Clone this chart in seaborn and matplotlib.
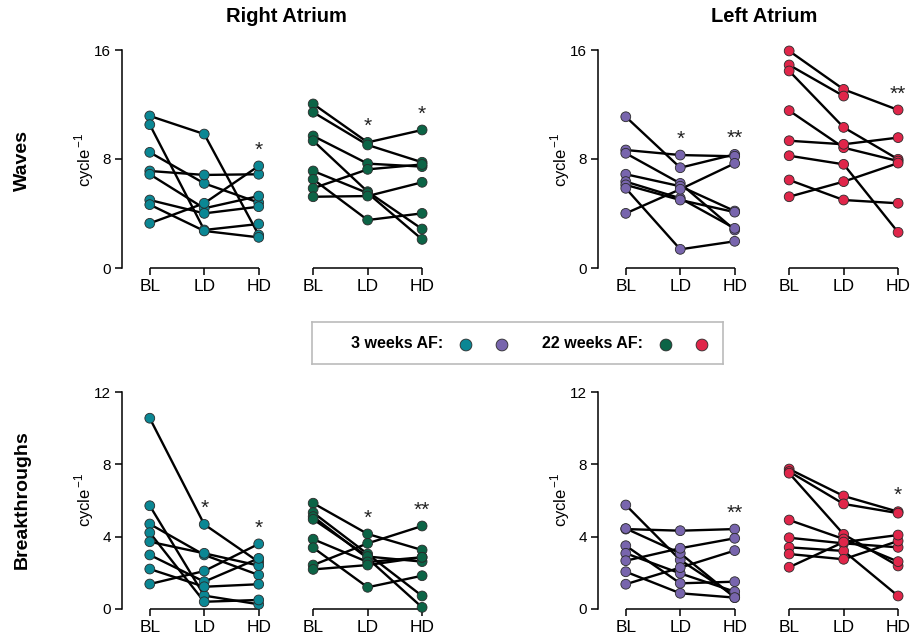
import numpy as np
import pandas as pd
import matplotlib
matplotlib.use("Agg")
import matplotlib.pyplot as plt
import seaborn as sns

# ---------------- data ----------------
CATEGORIES = ["BL", "LD", "HD"]
GROUP_LABELS = ["3 weeks AF:", "22 weeks AF:"]
ATRIA = ["Right Atrium", "Left Atrium"]
MEASURES = ["Waves", "Breakthroughs"]

# each list: [BL values], [LD values], [HD values]; index = animal
ra_waves_3w = [[11.16, 10.52, 8.49, 7.12, 6.88, 4.99, 4.65, 3.28],
               [9.83, 2.79, 6.21, 6.83, 4.38, 4.01, 2.72, 4.75],
               [2.42, 3.23, 4.80, 6.88, 5.28, 4.50, 2.25, 7.49]]
ra_waves_22w = [[12.04, 11.43, 9.69, 9.34, 7.12, 6.51, 5.85, 5.23],
                [9.22, 9.03, 7.66, 5.60, 5.50, 3.52, 7.24, 5.28],
                [10.13, 7.76, 7.44, 2.86, 2.10, 4.01, 7.60, 6.29]]
la_waves_3w = [[11.10, 8.66, 8.42, 6.88, 6.34, 6.10, 5.85, 4.01],
               [7.36, 8.29, 6.21, 6.00, 5.12, 4.99, 1.37, 5.78],
               [8.34, 8.20, 2.79, 4.18, 2.91, 4.10, 1.96, 7.68]]
la_waves_22w = [[15.93, 14.90, 14.46, 11.55, 9.34, 8.24, 6.46, 5.23],
                [13.11, 12.62, 10.32, 8.83, 9.08, 7.61, 4.99, 6.34],
                [11.60, np.nan, 7.98, 7.85, 9.57, 2.62, 4.75, 7.70]]
ra_bt_3w = [[10.55, 5.71, 4.70, 4.22, 3.72, 2.99, 2.21, 1.38],
            [4.68, 0.74, 2.99, 0.40, 3.08, 1.51, 1.23, 2.10],
            [2.60, 0.26, 1.88, 0.50, 2.40, 2.80, 1.37, 3.60]]
ra_bt_22w = [[5.85, 5.33, 5.11, 4.96, 3.86, 3.39, 2.43, 2.19],
             [4.15, 3.04, 2.80, 2.90, 2.60, 1.20, 3.63, 2.43],
             [3.26, 0.72, 0.09, 2.62, 2.86, 1.84, 4.59, 2.86]]
la_bt_3w = [[5.75, 4.42, 4.45, 3.50, 3.08, 2.67, 2.06, 1.37],
            [2.71, 4.33, 3.08, 1.42, 1.97, 3.36, 0.87, 2.29],
            [0.72, 4.42, 0.63, 1.51, 0.96, 3.91, 0.63, 3.23]]
la_bt_22w = [[7.74, 7.60, 7.51, 4.92, 3.94, 3.41, 3.04, 2.31],
             [6.25, 5.81, 4.13, 3.87, 3.63, 3.21, 2.75, 3.70],
             [5.38, 5.30, 2.38, 2.62, 3.41, 0.72, 3.76, 4.09]]

# significance marks per category (BL, LD, HD)
ra_waves_sig = [["", "", "*"], ["", "*", "*"]]
la_waves_sig = [["", "*", "**"], ["", "", "**"]]
ra_bt_sig = [["", "*", "*"], ["", "*", "**"]]
la_bt_sig = [["", "", "**"], ["", "", "*"]]

RA_COLORS = ["#0B8794", "#0C6446"]
LA_COLORS = ["#7865AD", "#E0264A"]

WAVES_TICKS = [0, 8, 16]
BT_TICKS = [0, 4, 8, 12]

# ---------------- style ----------------
sns.set_theme(style="ticks")
plt.rcParams["font.family"] = ["Liberation Sans", "DejaVu Sans"]
plt.rcParams["axes.linewidth"] = 1.1
for key in ["text.color", "axes.labelcolor", "xtick.color", "ytick.color",
            "axes.edgecolor"]:
    plt.rcParams[key] = "black"

W, H = 911, 639
fig = plt.figure(figsize=(W / 100, H / 100), dpi=100)


def px_axes(x0, y0, x1, y1):
    return fig.add_axes([x0 / W, 1 - y1 / H, (x1 - x0) / W, (y1 - y0) / H])


def panel(ax, groups, sigs, colors, ticks):
    rows = []
    for g, data in enumerate(groups):
        for c, vals in enumerate(data):
            for s, v in enumerate(vals):
                rows.append(dict(subject=f"{g}-{s}", x=c + 3 * g, value=v, group=g))
    df = pd.DataFrame(rows)
    sns.lineplot(data=df, x="x", y="value", units="subject", estimator=None,
                 color="black", linewidth=1.7, ax=ax, legend=False)
    sns.scatterplot(data=df, x="x", y="value", hue="group", palette=colors,
                    s=50, edgecolor="#2a2a2a", linewidth=0.6, ax=ax,
                    legend=False, zorder=3, clip_on=False)
    # significance
    for g, data in enumerate(groups):
        for c, mark in enumerate(sigs[g]):
            if mark:
                top = np.nanmax(data[c])
                ax.annotate(mark, (c + 3 * g, top), xytext=(0, 11.5),
                            textcoords="offset points", ha="center",
                            va="center", fontsize=15, color="#222222")
    ax.set_xlim(-0.51, 5.2)
    ax.set_ylim(ticks[0], ticks[-1])
    ax.set_yticks(ticks)
    ax.set_yticklabels([str(t) for t in ticks], fontsize=11)
    ax.set_xticks(range(6))
    ax.set_xticklabels(CATEGORIES * 2, fontsize=12.5)
    for sp in ["top", "right", "bottom"]:
        ax.spines[sp].set_visible(False)
    for g in range(2):
        ax.plot([3 * g, 3 * g + 2], [ticks[0], ticks[0]], color="black",
                linewidth=1.1, clip_on=False, solid_capstyle="butt")
    ax.tick_params(axis="both", direction="out", length=5, width=1.1,
                   color="black", pad=3)
    ax.set_xlabel("")
    ax.set_ylabel("")


ax1 = px_axes(122, 50, 433, 268)
ax2 = px_axes(598, 50, 909, 268)
ax3 = px_axes(122, 392, 433, 609)
ax4 = px_axes(598, 392, 909, 609)

panel(ax1, [ra_waves_3w, ra_waves_22w], ra_waves_sig, RA_COLORS, WAVES_TICKS)
panel(ax2, [la_waves_3w, la_waves_22w], la_waves_sig, LA_COLORS, WAVES_TICKS)
panel(ax3, [ra_bt_3w, ra_bt_22w], ra_bt_sig, RA_COLORS, BT_TICKS)
panel(ax4, [la_bt_3w, la_bt_22w], la_bt_sig, LA_COLORS, BT_TICKS)

# titles / row labels
fig.text(286 / W, 1 - 17 / H, ATRIA[0], ha="center", va="center",
         fontsize=14.5, fontweight="bold")
fig.text(764 / W, 1 - 17 / H, ATRIA[1], ha="center", va="center",
         fontsize=14.5, fontweight="bold")
fig.text(22 / W, 1 - 160 / H, MEASURES[0], ha="center", va="center",
         rotation=90, fontsize=14, fontweight="bold")
fig.text(22 / W, 1 - 500 / H, MEASURES[1], ha="center", va="center",
         rotation=90, fontsize=14, fontweight="bold")
for xp, yp in [(84, 160), (560, 160), (84, 500), (560, 500)]:
    fig.text(xp / W, 1 - yp / H, "cycle$^{\\,\\mathregular{-1}}$", ha="center",
             va="center", rotation=90, fontsize=12)

# legend box
lax = px_axes(312, 322, 723, 364)
lax.set_xlim(312, 723)
lax.set_ylim(364, 322)
lax.set_xticks([])
lax.set_yticks([])
lax.set_facecolor("white")
for sp in lax.spines.values():
    sp.set_color("#BBBBBB")
    sp.set_linewidth(1.2)
lax.text(443, 344, GROUP_LABELS[0], ha="right", va="center",
         fontsize=11.5, fontweight="bold")
lax.text(643, 344, GROUP_LABELS[1], ha="right", va="center",
         fontsize=11.5, fontweight="bold")
legend_df = pd.DataFrame({"x": [466, 502, 666, 702], "y": [345] * 4,
                          "c": [RA_COLORS[0], LA_COLORS[0], RA_COLORS[1], LA_COLORS[1]]})
sns.scatterplot(data=legend_df, x="x", y="y", hue="c",
                palette=dict(zip(legend_df["c"], legend_df["c"])),
                s=72, edgecolor="#2a2a2a", linewidth=0.6, ax=lax, legend=False)
lax.set_xlabel("")
lax.set_ylabel("")

fig.savefig("out.png", dpi=100)
